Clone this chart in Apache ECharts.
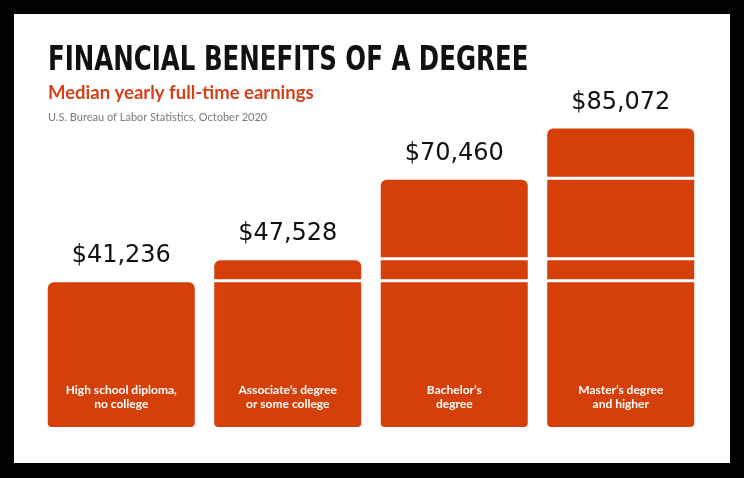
<!DOCTYPE html>
<html>
<head>
<meta charset="utf-8">
<script src="https://cdn.jsdelivr.net/npm/echarts@6/dist/echarts.min.js"></script>
<style>html,body{margin:0;padding:0;background:#000;}#c{width:744px;height:478px;}</style>
</head>
<body>
<div id="c"></div>
<script>
const categories = ['High school diploma,\nno college', 'Associate’s degree\nor some college', 'Bachelor’s\ndegree', 'Master’s degree\nand higher'];
const earnings = [41236, 47528, 70460, 85072];
const titleText = 'FINANCIAL BENEFITS OF A DEGREE';
const subtitleText = 'Median yearly full-time earnings';
const sourceText = 'U.S. Bureau of Labor Statistics, October 2020';

const BAR = '#d5400a';
const chart = echarts.init(document.getElementById('c'));

function fmt(v) { return '$' + v.toLocaleString('en-US'); }

chart.setOption({
  backgroundColor: '#000',
  animation: false,
  graphic: [
    { type: 'rect', shape: { x: 14, y: 14, width: 716, height: 449 }, style: { fill: '#fff' }, z: -10 },
    { type: 'text', x: 48, y: 45, scaleX: 0.825, style: { text: titleText, font: 'bold 33px "DejaVu Sans Condensed", sans-serif', fill: '#111' } },
    { type: 'text', x: 48, y: 84, style: { text: subtitleText, font: 'bold 18.5px Lato, sans-serif', fill: '#d4401a' } },
    { type: 'text', x: 48, y: 112, style: { text: sourceText, font: '11px Lato, sans-serif', fill: '#7a7a7a' } }
  ],
  grid: { left: 38, right: 40, top: 76, bottom: 51 },
  xAxis: { type: 'category', data: categories, show: false },
  yAxis: { type: 'value', min: 0, max: 100000, show: false },
  series: [{
    type: 'custom',
    data: earnings.map((v, i) => [i, v]),
    encode: { x: 0, y: 1 },
    renderItem: function (params, api) {
      const idx = api.value(0);
      const total = api.value(1);
      const levels = [0].concat(earnings.filter(v => v < total).sort((a, b) => a - b)).concat([total]);
      const bw = api.size([1, 0])[0] * 0.883;
      const cx = api.coord([idx, 0])[0];
      const x0 = cx - bw / 2;
      const children = [];
      const n = levels.length - 1;
      for (let k = 0; k < n; k++) {
        let yb = api.coord([idx, levels[k]])[1];
        const yt = api.coord([idx, levels[k + 1]])[1];
        if (k > 0) yb -= 3;
        const isTop = k === n - 1;
        const isBot = k === 0;
        children.push({
          type: 'rect',
          shape: { x: x0, y: yt, width: bw, height: yb - yt, r: [isTop ? 6 : 0, isTop ? 6 : 0, isBot ? 4 : 0, isBot ? 4 : 0] },
          style: { fill: BAR }
        });
      }
      const yTop = api.coord([idx, total])[1];
      const yBase = api.coord([idx, 0])[1];
      children.push({
        type: 'text',
        x: cx, y: yTop - 14,
        style: { text: fmt(total), font: '500 24px "DejaVu Sans", sans-serif', fill: '#111', align: 'center', verticalAlign: 'bottom' }
      });
      children.push({
        type: 'text',
        x: cx, y: yBase - 16,
        style: { text: categories[idx], font: 'bold 12px Lato, sans-serif', lineHeight: 14, fill: '#fff', align: 'center', verticalAlign: 'bottom' }
      });
      return { type: 'group', children: children };
    }
  }]
});
</script>
</body>
</html>
